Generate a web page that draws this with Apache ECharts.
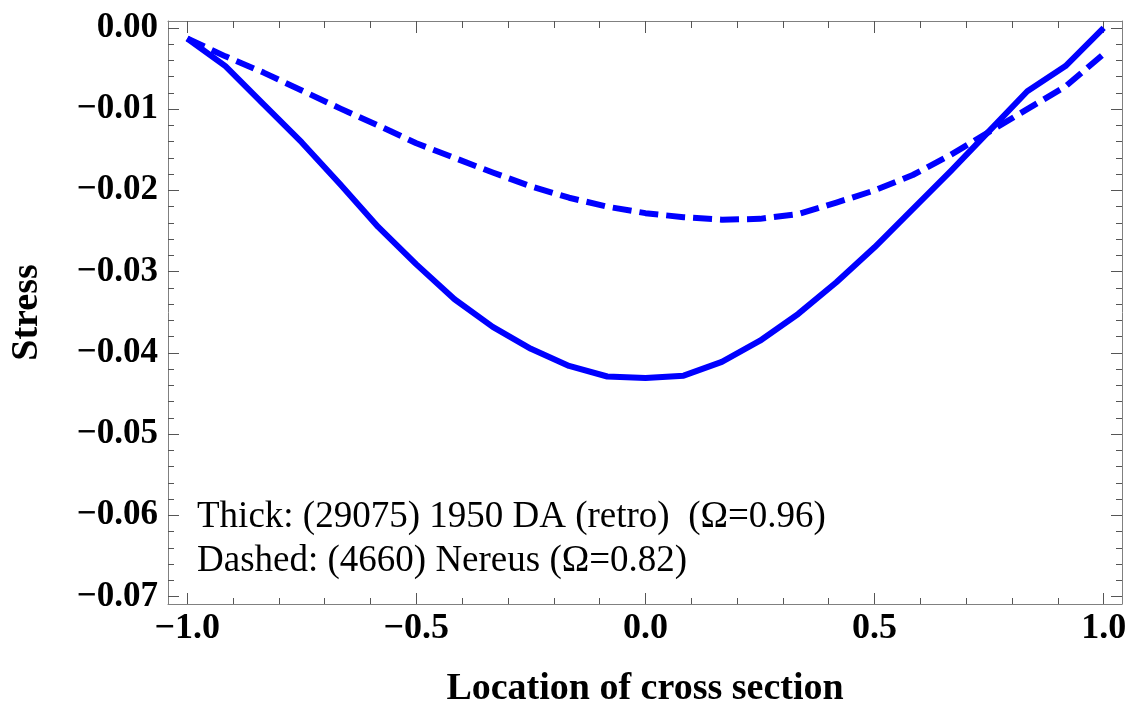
<!DOCTYPE html>
<html>
<head>
<meta charset="utf-8">
<script src="https://cdn.jsdelivr.net/npm/echarts@6/dist/echarts.min.js"></script>
<style>html,body{margin:0;padding:0;background:#fff}#c{width:1132px;height:713px}</style>
</head>
<body>
<div id="c"></div>
<script>
// Location of cross section (sample points)
const xs = [-1.0, -0.9167, -0.8333, -0.75, -0.6667, -0.5833, -0.5, -0.4167, -0.3333, -0.25, -0.1667, -0.0833,
  0.0, 0.0833, 0.1667, 0.25, 0.3333, 0.4167, 0.5, 0.5833, 0.6667, 0.75, 0.8333, 0.9167, 1.0];
// Thick: (29075) 1950 DA (retro)
const thick = [-0.0013, -0.0047, -0.0094, -0.0141, -0.0192, -0.0245, -0.0291, -0.0334, -0.0368, -0.0395, -0.0416, -0.0429,
  -0.0431, -0.0428, -0.0411, -0.0385, -0.0352, -0.0313, -0.0270, -0.0223, -0.0176, -0.0127, -0.0078, -0.0047, 0.0000];
// Dashed: (4660) Nereus
const dashed = [-0.0013, -0.0035, -0.0055, -0.0077, -0.0099, -0.0120, -0.0142, -0.0160, -0.0178, -0.0195, -0.0209, -0.0220,
  -0.0228, -0.0233, -0.0236, -0.0235, -0.0229, -0.0215, -0.0200, -0.0181, -0.0156, -0.0128, -0.0100, -0.0072, -0.0032];

const xMajor = [-1.0, -0.5, 0.0, 0.5, 1.0];
const xMinor = [-0.9, -0.8, -0.7, -0.6, -0.4, -0.3, -0.2, -0.1, 0.1, 0.2, 0.3, 0.4, 0.6, 0.7, 0.8, 0.9];
const yMajor = [0.00, -0.01, -0.02, -0.03, -0.04, -0.05, -0.06, -0.07];
const yMinor = [-0.002, -0.004, -0.006, -0.008, -0.012, -0.014, -0.016, -0.018, -0.022, -0.024, -0.026, -0.028,
  -0.032, -0.034, -0.036, -0.038, -0.042, -0.044, -0.046, -0.048, -0.052, -0.054, -0.056, -0.058,
  -0.062, -0.064, -0.066, -0.068];

const xMin = -1.042, xMax = 1.04, yMin = -0.0709, yMax = 0.00085;
const FRAME = '#808080', TICK = '#555';
const SERIF = '"Liberation Serif", "Times New Roman", serif';

function fmt(v, d) {
  const s = Math.abs(v).toFixed(d);
  return (v < -1e-9 ? '\u2212' : '') + s;
}

function xAx(pos, vals, len, major) {
  return {
    type: 'value', position: pos, min: xMin, max: xMax,
    axisLine: { show: major, onZero: false, lineStyle: { color: FRAME, width: 1 } },
    splitLine: { show: false },
    axisTick: { show: true, inside: true, length: len, customValues: vals, lineStyle: { color: TICK, width: 1 } },
    axisLabel: { show: false }
  };
}
function yAx(pos, vals, len, major) {
  return {
    type: 'value', position: pos, min: yMin, max: yMax,
    axisLine: { show: major, onZero: false, lineStyle: { color: FRAME, width: 1 } },
    splitLine: { show: false },
    axisTick: { show: true, inside: true, length: len, customValues: vals, lineStyle: { color: TICK, width: 1 } },
    axisLabel: { show: false }
  };
}

const xMain = xAx('bottom', xMajor, 11, true);
xMain.axisLabel = {
  show: true, customValues: xMajor, formatter: v => fmt(v, 1),
  fontFamily: SERIF, fontWeight: 'bold', fontSize: 36, color: '#000', margin: 7
};
xMain.name = 'Location of cross section';
xMain.nameLocation = 'middle';
xMain.nameGap = 66;
xMain.nameTextStyle = { fontFamily: SERIF, fontWeight: 'bold', fontSize: 38, color: '#000' };

const yMain = yAx('left', yMajor, 11, true);
yMain.axisLabel = {
  show: true, customValues: yMajor, formatter: v => fmt(v, 2),
  fontFamily: SERIF, fontWeight: 'bold', fontSize: 35, color: '#000', margin: 10
};
yMain.name = 'Stress';
yMain.nameLocation = 'middle';
yMain.nameGap = 122;
yMain.nameRotate = 90;
yMain.nameTextStyle = { fontFamily: SERIF, fontWeight: 'bold', fontSize: 38, color: '#000' };

const chart = echarts.init(document.getElementById('c'), null, { renderer: 'canvas' });
chart.setOption({
  animation: false,
  backgroundColor: '#fff',
  grid: { left: 168, right: 10, top: 21, bottom: 104, containLabel: false },
  xAxis: [xMain, xAx('bottom', xMinor, 6, false), xAx('top', xMajor, 12, true), xAx('top', xMinor, 7, false)],
  yAxis: [yMain, yAx('left', yMinor, 6, false), yAx('right', yMajor, 11, true), yAx('right', yMinor, 6, false)],
  series: [
    {
      name: 'Thick', type: 'line', xAxisIndex: 0, yAxisIndex: 0, showSymbol: false, symbol: 'none',
      data: xs.map((x, i) => [x, thick[i]]),
      lineStyle: { color: '#0000ff', width: 6, join: 'round', cap: 'butt' }
    },
    {
      name: 'Dashed', type: 'line', xAxisIndex: 0, yAxisIndex: 0, showSymbol: false, symbol: 'none',
      data: xs.map((x, i) => [x, dashed[i]]),
      lineStyle: { color: '#0000ff', width: 6, type: [19, 8], join: 'round', cap: 'butt' }
    }
  ],
  graphic: [
    { type: 'text', left: 197, top: 499, style: { text: 'Thick: (29075) 1950 DA (retro)  (\u03A9=0.96)', fontFamily: SERIF, fontSize: 37, fill: '#000' } },
    { type: 'text', left: 197, top: 543, style: { text: 'Dashed: (4660) Nereus (\u03A9=0.82)', fontFamily: SERIF, fontSize: 37, fill: '#000' } }
  ]
});
</script>
</body>
</html>
